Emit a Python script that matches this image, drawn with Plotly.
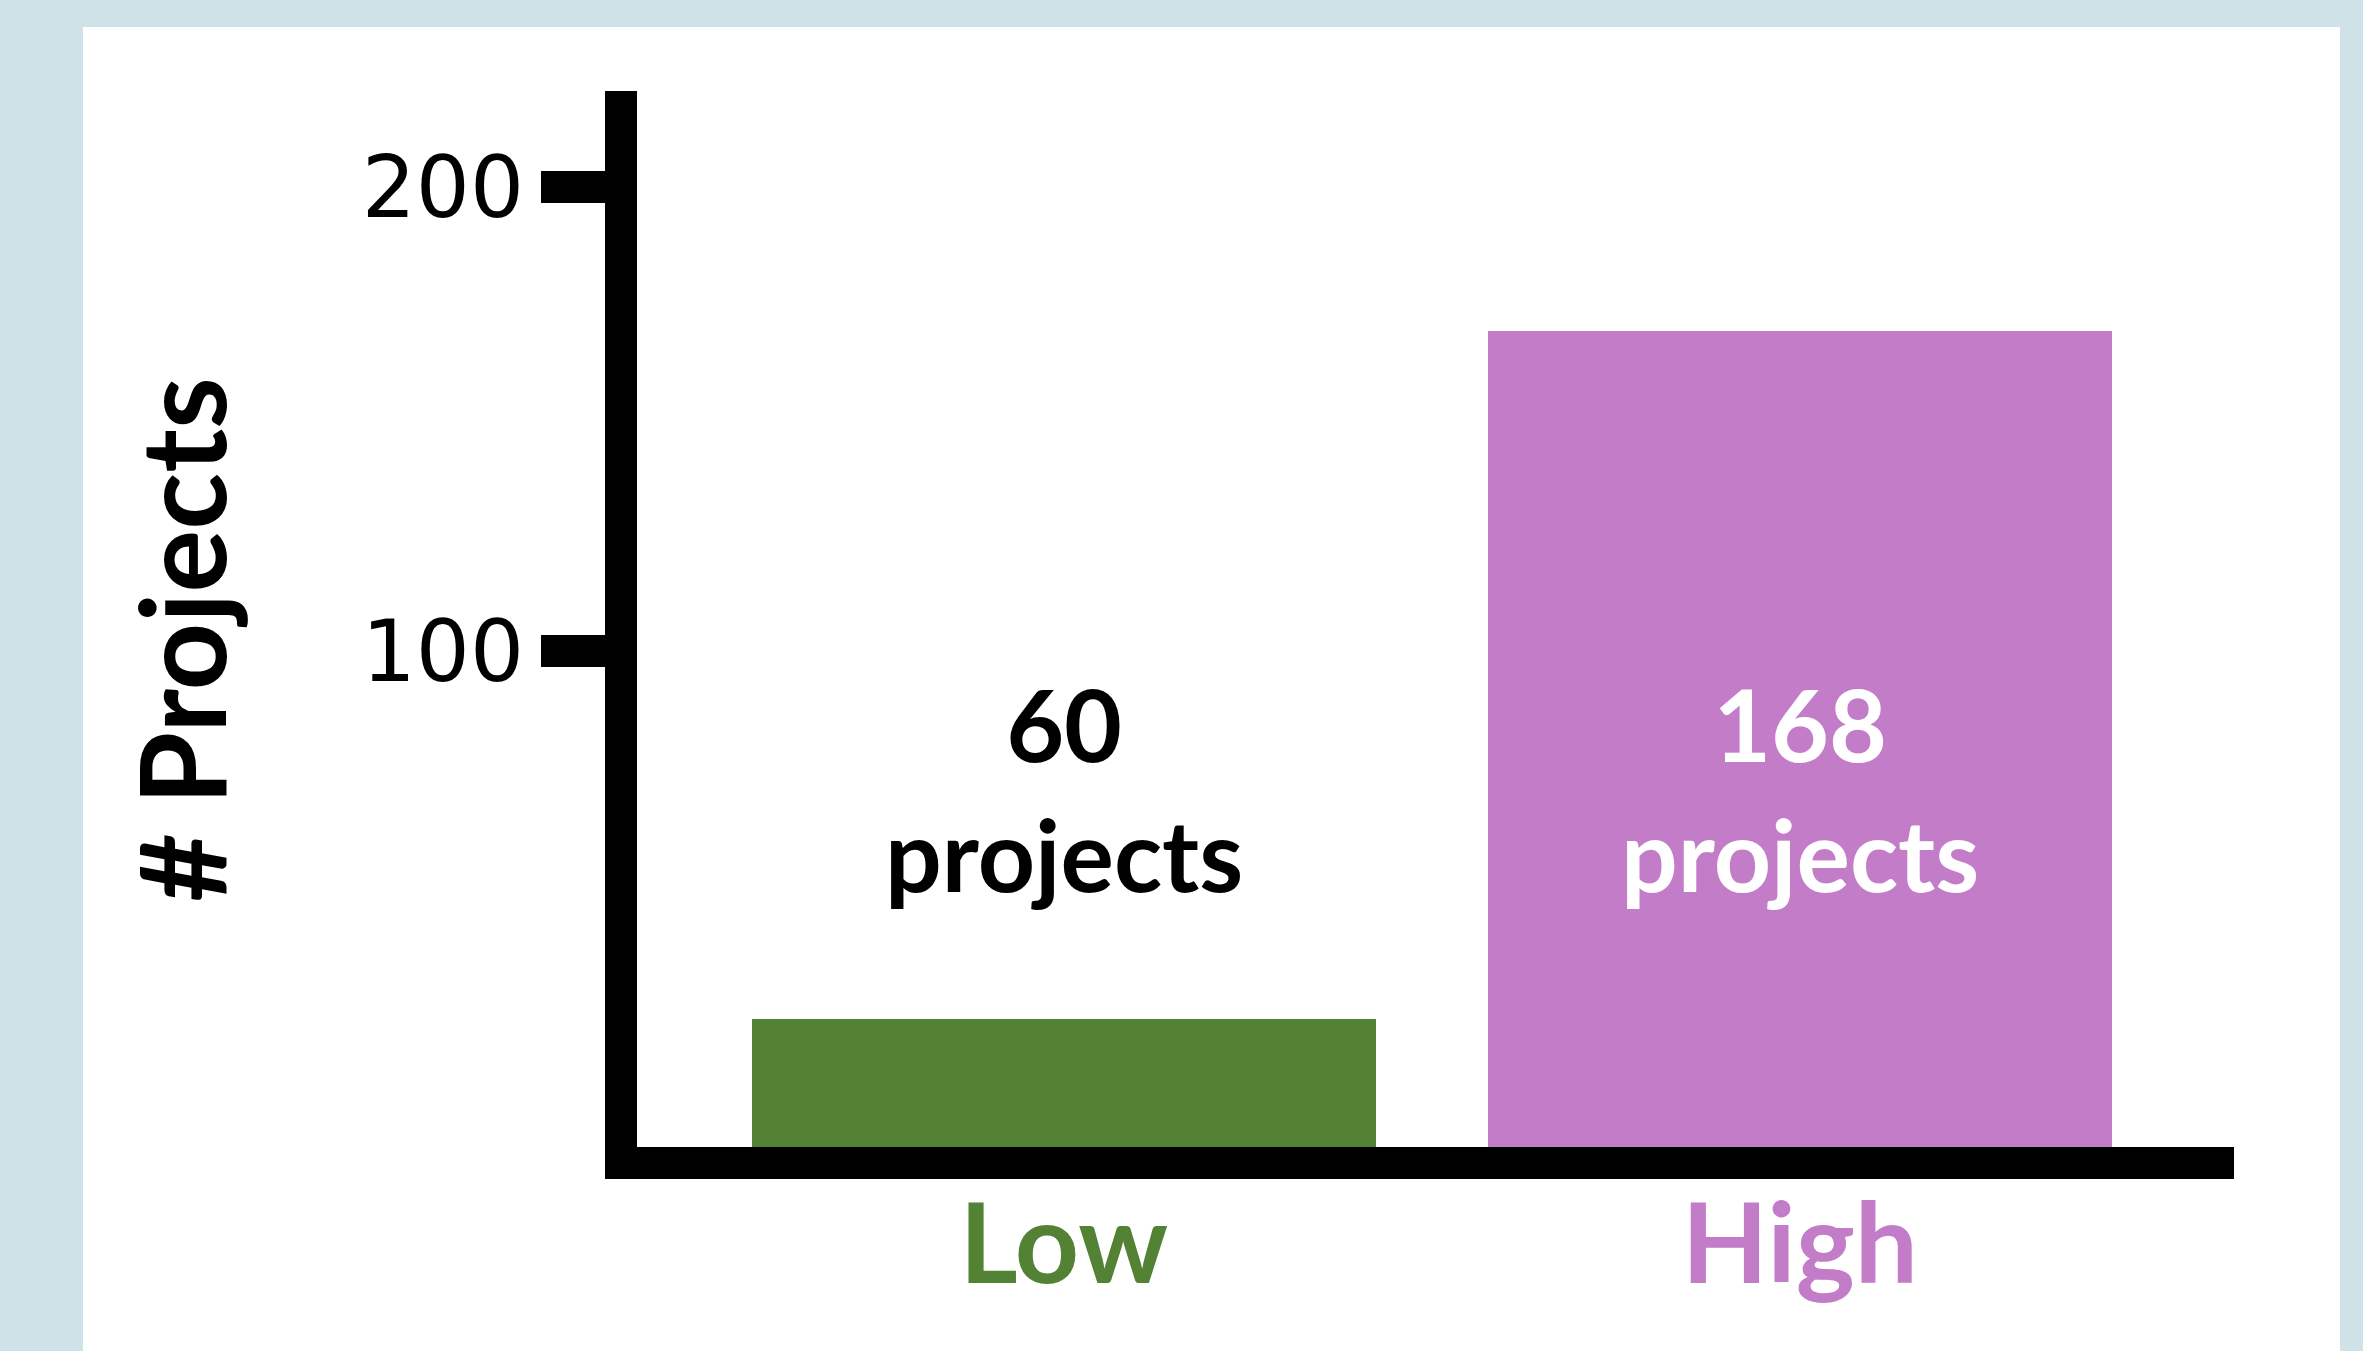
import plotly.graph_objects as go

# ---------------- data ----------------
categories = ["Low", "High"]
project_counts = [60, 168]            # numbers printed on the bars
bar_heights = [20.7, 169.0]           # bar tops as drawn against the y axis
bar_colors = ["#548235", "#C27CC8"]
count_label_colors = ["#000000", "#FFFFFF"]
y_tick_values = [100, 200]
y_tick_labels = ["100", "200"]
y_title = "# Projects"

# ---------------- layout constants (pixels) ----------------
W, H = 2363, 1351
PLOT_L, PLOT_R, PLOT_T, PLOT_B = 637, 2234, 91, 1147
PANEL_L, PANEL_R, PANEL_T, PANEL_B = 83, 2340, 27, 1351
Y_RANGE = [-6.9, 220.7]
X_RANGE = [-0.58, 1.59]
BAR_WIDTH = 0.848
LABEL_Y = 70.5
BG = "#CFE2E8"


def px_to_paper_x(px):
    return (px - PLOT_L) / (PLOT_R - PLOT_L)


def px_to_paper_y(py):
    return (PLOT_B - py) / (PLOT_B - PLOT_T)


fig = go.Figure()
fig.add_trace(go.Bar(
    x=categories,
    y=[h - Y_RANGE[0] for h in bar_heights],
    base=Y_RANGE[0],
    width=BAR_WIDTH,
    marker=dict(color=bar_colors, line=dict(width=0)),
    hoverinfo="skip",
    showlegend=False,
))

annotations = []
for cat, n, col in zip(categories, project_counts, count_label_colors):
    annotations.append(dict(
        x=cat, y=LABEL_Y, xref="x", yref="y",
        text=f"{n}<br>projects",
        showarrow=False, xanchor="center", yanchor="middle",
        font=dict(family="Lato", size=100, color=col, weight="bold"),
    ))

annotations.append(dict(
    x=px_to_paper_x(180), y=px_to_paper_y(640), xref="paper", yref="paper",
    text=y_title, textangle=-90, showarrow=False,
    xanchor="center", yanchor="middle",
    font=dict(family="Lato", size=118, color="#000000", weight="bold"),
))

x_tick_text = [f"<span style='color:{c}'>{cat}</span>" for cat, c in zip(categories, bar_colors)]

fig.update_layout(
    width=W, height=H,
    margin=dict(l=PLOT_L, r=W - PLOT_R, t=PLOT_T, b=H - PLOT_B, pad=0),
    paper_bgcolor=BG,
    plot_bgcolor="#FFFFFF",
    bargap=0,
    annotations=annotations,
    shapes=[dict(
        type="rect", xref="paper", yref="paper", layer="below",
        x0=px_to_paper_x(PANEL_L), x1=px_to_paper_x(PANEL_R),
        y0=px_to_paper_y(PANEL_B), y1=px_to_paper_y(PANEL_T),
        fillcolor="#FFFFFF", line=dict(width=0),
    )],
    xaxis=dict(
        type="category", range=X_RANGE,
        showline=True, linewidth=32, linecolor="#000000",
        ticks="", tickvals=categories, ticktext=x_tick_text,
        tickfont=dict(family="Lato", size=112, weight="bold"),
        ticklabelstandoff=-30,
        showgrid=False, zeroline=False, fixedrange=True,
    ),
    yaxis=dict(
        range=Y_RANGE,
        showline=True, linewidth=32, linecolor="#000000",
        ticks="outside", ticklen=64, tickwidth=32, tickcolor="#000000",
        tickvals=y_tick_values, ticktext=y_tick_labels,
        tickfont=dict(family="DejaVu Sans", size=85, color="#000000"),
        showgrid=False, zeroline=False, fixedrange=True,
    ),
)

fig.write_html(
    "out.html",
    config={"displayModeBar": False},
    post_script="document.body.style.margin='0px'; document.body.style.overflow='hidden';",
)
